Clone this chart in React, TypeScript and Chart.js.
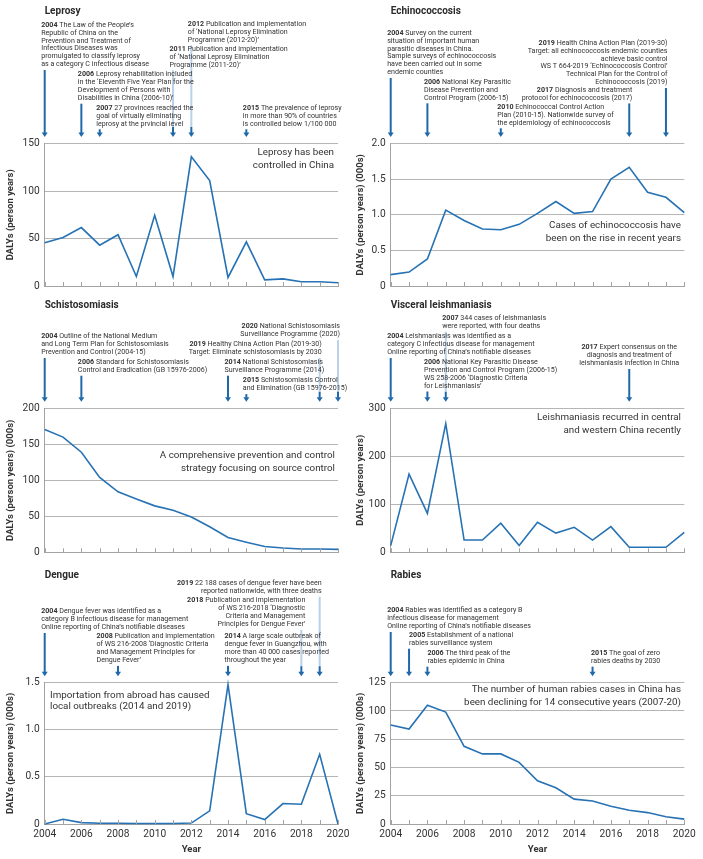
import React, { useEffect, useRef } from "react";
import { Chart, registerables } from "chart.js";

Chart.register(...registerables);

// ---------------- DATA ----------------
const YEARS = ["2004", "2005", "2006", "2007", "2008", "2009", "2010", "2011", "2012", "2013", "2014", "2015", "2016", "2017", "2018", "2019", "2020"];

const LEPROSY_DALYS = [45.5, 51, 61.5, 43, 54, 10, 74.5, 10, 136, 111, 9, 46.5, 6.5, 7.5, 4.5, 4.5, 3.5];
const ECHINO_DALYS = [0.16, 0.195, 0.38, 1.065, 0.92, 0.8, 0.79, 0.865, 1.02, 1.185, 1.02, 1.045, 1.5, 1.665, 1.315, 1.245, 1.03];
const SCHISTO_DALYS = [170.5, 160, 139, 104, 84, 74, 64.5, 58.5, 49, 35.5, 20.5, 14, 8, 6, 4.6, 4.6, 4.1];
const LEISH_DALYS = [14, 163, 81, 268, 25.5, 25.5, 60.5, 14, 62.5, 40, 52, 25.5, 53.5, 10.5, 10.5, 10.5, 41.5];
const DENGUE_DALYS = [0, 0.05, 0.015, 0.008, 0.008, 0.005, 0.005, 0.005, 0.01, 0.14, 1.48, 0.11, 0.047, 0.217, 0.21, 0.74, 0];
const RABIES_DALYS = [87.5, 84, 105, 99, 68.7, 62, 62, 54.5, 38.3, 32, 22, 20.3, 15.7, 12.2, 10.1, 6.4, 4.3];

const LEPROSY_TICKS = [0, 50, 100, 150];
const LEPROSY_TICK_LABELS = ["0", "50", "100", "150"];
const ECHINO_TICKS = [0, 0.5, 1, 1.5, 2];
const ECHINO_TICK_LABELS = ["0", "0.5", "1.0", "1.5", "2.0"];
const SCHISTO_TICKS = [0, 50, 100, 150, 200];
const SCHISTO_TICK_LABELS = ["0", "50", "100", "150", "200"];
const LEISH_TICKS = [0, 100, 200, 300];
const LEISH_TICK_LABELS = ["0", "100", "200", "300"];
const DENGUE_TICKS = [0, 0.5, 1, 1.5];
const DENGUE_TICK_LABELS = ["0", "0.5", "1.0", "1.5"];
const RABIES_TICKS = [0, 25, 50, 75, 100, 125];
const RABIES_TICK_LABELS = ["0", "25", "50", "75", "100", "125"];

const TITLES = ["Leprosy", "Echinococcosis", "Schistosomiasis", "Visceral leishmaniasis", "Dengue", "Rabies"];
const Y_TITLES = [
  "DALYs (person years)",
  "DALYs (person years) (000s)",
  "DALYs (person years) (000s)",
  "DALYs (person years)",
  "DALYs (person years) (000s)",
  "DALYs (person years) (000s)",
];
const X_TITLE = "Year";

const LEPROSY_EVENTS = [
  { year: "2004", text: ["2004 The Law of the People’s", "Republic of China on the", "Prevention and Treatment of", "Infectious Diseases was", "promulgated to classify leprosy", "as a category C infectious disease"] },
  { year: "2006", text: ["2006 Leprosy rehabilitation included", "in the ‘Eleventh Five Year Plan for the", "Development of Persons with", "Disabilities in China (2006-10)’"] },
  { year: "2007", text: ["2007 27 provinces reached the", "goal of virtually eliminating", "leprosy at the prvincial level"] },
  { year: "2011", text: ["2011 Publication and implementation", "of ‘National Leprosy Elimination", "Programme (2011-20)’"] },
  { year: "2012", text: ["2012 Publication and implementation", "of ‘National Leprosy Elimination", "Programme (2012-20)’"] },
  { year: "2015", text: ["2015 The prevalence of leprosy", "in more than 90% of countries", "is controlled below 1/100 000"] },
];
const ECHINO_EVENTS = [
  { year: "2004", text: ["2004 Survey on the current", "situation of important human", "parasitic diseases in China.", "Sample surveys of echinococcosis", "have been carried out in some", "endemic counties"] },
  { year: "2006", text: ["2006 National Key Parasitic", "Disease Prevention and", "Control Program (2006-15)"] },
  { year: "2010", text: ["2010 Echinococcal Control Action", "Plan (2010-15). Nationwide survey of", "the epidemiology of echinococcosis"] },
  { year: "2017", text: ["2017 Diagnosis and treatment", "protocol for echinococcosis (2017)"] },
  { year: "2019", text: ["2019 Health China Action Plan (2019-30)", "Target: all echinococcosis endemic counties", "achieve basic control", "WS T 664-2019 ‘Echinococcosis Control’", "Technical Plan for the Control of", "Echinococcosis (2019)"] },
];
const SCHISTO_EVENTS = [
  { year: "2004", text: ["2004 Outline of the National Medium", "and Long Term Plan for Schistosomiasis", "Prevention and Control (2004-15)"] },
  { year: "2006", text: ["2006 Standard for Schistosomiasis", "Control and Eradication (GB 15976-2006)"] },
  { year: "2014", text: ["2014 National Schistosomiasis", "Surveillance Programme (2014)"] },
  { year: "2015", text: ["2015 Schistosomiasis Control", "and Elimination (GB 15976-2015)"] },
  { year: "2019", text: ["2019 Healthy China Action Plan (2019-30)", "Target: Eliminate schistosomiasis by 2030"] },
  { year: "2020", text: ["2020 National Schistosomiasis", "Surveillance Programme (2020)"] },
];
const LEISH_EVENTS = [
  { year: "2007", text: ["2007 344 cases of leishmaniasis", "were reported, with four deaths"] },
  { year: "2004", text: ["2004 Leishmaniasis was identified as a", "category C infectious disease for management", "Online reporting of China’s notifiable diseases"] },
  { year: "2006", text: ["2006 National Key Parasitic Disease", "Prevention and Control Program (2006-15)", "WS 258-2006 ‘Diagnostic Criteria", "for Leishmaniasis’"] },
  { year: "2017", text: ["2017 Expert consensus on the", "diagnosis and treatment of", "leishmaniasis infection in China"] },
];
const DENGUE_EVENTS = [
  { year: "2019", text: ["2019 22 188 cases of dengue fever have been", "reported nationwide, with three deaths"] },
  { year: "2018", text: ["2018 Publication and implementation", "of WS 216-2018 ‘Diagnostic", "Criteria and Management", "Principles for Dengue Fever’"] },
  { year: "2004", text: ["2004 Dengue fever was identified as a", "category B infectious disease for management", "Online reporting of China’s notifiable diseases"] },
  { year: "2008", text: ["2008 Publication and implementation", "of WS 216-2008 ‘Diagnostic Criteria", "and Management Principles for", "Dengue Fever’"] },
  { year: "2014", text: ["2014 A large scale outbreak of", "dengue fever in Guangzhou, with", "more than 40 000 cases reported", "throughout the year"] },
];
const RABIES_EVENTS = [
  { year: "2004", text: ["2004 Rabies was identified as a category B", "infectious disease for management", "Online reporting of China’s notifiable diseases"] },
  { year: "2005", text: ["2005 Establishment of a national", "rabies surveillance system"] },
  { year: "2006", text: ["2006 The third peak of the", "rabies epidemic in China"] },
  { year: "2015", text: ["2015 The goal of zero", "rabies deaths by 2030"] },
];

const LEPROSY_NOTE = ["Leprosy has been", "controlled in China"];
const ECHINO_NOTE = ["Cases of echinococcosis have", "been on the rise in recent years"];
const SCHISTO_NOTE = ["A comprehensive prevention and control", "strategy focusing on source control"];
const LEISH_NOTE = ["Leishmaniasis recurred in central", "and western China recently"];
const DENGUE_NOTE = ["Importation from abroad has caused", "local outbreaks (2014 and 2019)"];
const RABIES_NOTE = ["The number of human rabies cases in China has", "been declining for 14 consecutive years (2007-20)"];

// ---------------- LAYOUT / STYLE ----------------
type Align = "left" | "right" | "center";
type EvLayout = { y: number; align?: Align; dx?: number; pale?: boolean };
type NoteLayout = { align: Align; dx: number; dy: number; lh: number };

const LEPROSY_EV_LAYOUT: EvLayout[] = [{ y: 25 }, { y: 74.5 }, { y: 108 }, { y: 49, pale: true }, { y: 24, pale: true }, { y: 108 }];
const ECHINO_EV_LAYOUT: EvLayout[] = [{ y: 33 }, { y: 82 }, { y: 107 }, { y: 90, align: "right", dx: 3 }, { y: 43, align: "right", dx: 1.5 }];
const SCHISTO_EV_LAYOUT: EvLayout[] = [{ y: 41.7 }, { y: 67.3 }, { y: 67.3 }, { y: 85.7 }, { y: 49.3, align: "right", pale: true }, { y: 31.7, align: "right", pale: true }];
const LEISH_EV_LAYOUT: EvLayout[] = [{ y: 23.3, pale: true }, { y: 41.7 }, { y: 67.3 }, { y: 52.7, align: "center" }];
const DENGUE_EV_LAYOUT: EvLayout[] = [{ y: 18.3, align: "right", pale: true }, { y: 35.7, align: "right", dx: 4, pale: true }, { y: 46.7 }, { y: 71.7, dx: -21.5 }, { y: 71.7 }];
const RABIES_EV_LAYOUT: EvLayout[] = [{ y: 45.7 }, { y: 70.3, dx: 0 }, { y: 88.3, dx: 0 }, { y: 88.3, dx: -1.5 }];

const NOTE_LAYOUTS: NoteLayout[] = [
  { align: "right", dx: -4, dy: 9.5, lh: 12.6 },
  { align: "right", dx: -3.3, dy: 82.2, lh: 13.3 },
  { align: "right", dx: -3, dy: 47.4, lh: 13.3 },
  { align: "right", dx: -3.3, dy: 9.4, lh: 13 },
  { align: "left", dx: 5.3, dy: 13, lh: 11 },
  { align: "right", dx: -3.3, dy: 6.6, lh: 13.4 },
];

const COLS = [
  { left: 0, width: 350, axisW: 44.7, padR: 12, yTitleX: 11 },
  { left: 350, width: 353, axisW: 40.7, padR: 18.7, yTitleX: 11 },
];
const ROWS = [
  { top: 0, height: 295, chartTop: 143.5, chartBottom: 286, titleY: 11, showX: false },
  { top: 295, height: 270, chartTop: 113.3, chartBottom: 257.3, titleY: 10.7, showX: false },
  { top: 565, height: 294, chartTop: 117.7, chartBottom: 259, titleY: 10, showX: true },
];

const FONT = "Roboto, 'Noto Sans', sans-serif";
const TEXT = "#333333";
const GRID = "#b5b5b5";
const AXIS = "#a3a3a3";
const LINE = "#2772b4";
const ARROW = "#1f69ab";
const ARROW_PALE = "#b9d1e9";
const ANN_SIZE = 7.1;
const ANN_LH = 7.9;
const NOTE_SIZE = 9.8;

type Panel = {
  title: string;
  yTitle: string;
  values: number[];
  ticks: number[];
  tickLabels: string[];
  events: { year: string; text: string[] }[];
  evLayout: EvLayout[];
  note: string[];
  noteLayout: NoteLayout;
  col: number;
  row: number;
};

const PANELS: Panel[] = [
  { title: TITLES[0], yTitle: Y_TITLES[0], values: LEPROSY_DALYS, ticks: LEPROSY_TICKS, tickLabels: LEPROSY_TICK_LABELS, events: LEPROSY_EVENTS, evLayout: LEPROSY_EV_LAYOUT, note: LEPROSY_NOTE, noteLayout: NOTE_LAYOUTS[0], col: 0, row: 0 },
  { title: TITLES[1], yTitle: Y_TITLES[1], values: ECHINO_DALYS, ticks: ECHINO_TICKS, tickLabels: ECHINO_TICK_LABELS, events: ECHINO_EVENTS, evLayout: ECHINO_EV_LAYOUT, note: ECHINO_NOTE, noteLayout: NOTE_LAYOUTS[1], col: 1, row: 0 },
  { title: TITLES[2], yTitle: Y_TITLES[2], values: SCHISTO_DALYS, ticks: SCHISTO_TICKS, tickLabels: SCHISTO_TICK_LABELS, events: SCHISTO_EVENTS, evLayout: SCHISTO_EV_LAYOUT, note: SCHISTO_NOTE, noteLayout: NOTE_LAYOUTS[2], col: 0, row: 1 },
  { title: TITLES[3], yTitle: Y_TITLES[3], values: LEISH_DALYS, ticks: LEISH_TICKS, tickLabels: LEISH_TICK_LABELS, events: LEISH_EVENTS, evLayout: LEISH_EV_LAYOUT, note: LEISH_NOTE, noteLayout: NOTE_LAYOUTS[3], col: 1, row: 1 },
  { title: TITLES[4], yTitle: Y_TITLES[4], values: DENGUE_DALYS, ticks: DENGUE_TICKS, tickLabels: DENGUE_TICK_LABELS, events: DENGUE_EVENTS, evLayout: DENGUE_EV_LAYOUT, note: DENGUE_NOTE, noteLayout: NOTE_LAYOUTS[4], col: 0, row: 2 },
  { title: TITLES[5], yTitle: Y_TITLES[5], values: RABIES_DALYS, ticks: RABIES_TICKS, tickLabels: RABIES_TICK_LABELS, events: RABIES_EVENTS, evLayout: RABIES_EV_LAYOUT, note: RABIES_NOTE, noteLayout: NOTE_LAYOUTS[5], col: 1, row: 2 },
];

// ---------------- DRAW HELPERS ----------------
function drawText(ctx: CanvasRenderingContext2D, s: string, x: number, y: number, font: string, align: Align, color: string) {
  ctx.font = font;
  ctx.fillStyle = color;
  ctx.textAlign = align;
  ctx.textBaseline = "middle";
  ctx.fillText(s, x, y);
}

function drawAnnLine(ctx: CanvasRenderingContext2D, line: string, x: number, y: number, align: Align, first: boolean) {
  const boldFont = `bold ${ANN_SIZE}px ${FONT}`;
  const regFont = `${ANN_SIZE}px ${FONT}`;
  let head = "";
  let rest = line;
  if (first) {
    const k = line.indexOf(" ");
    head = line.slice(0, k);
    rest = line.slice(k);
  }
  ctx.font = boldFont;
  const wh = head ? ctx.measureText(head).width : 0;
  ctx.font = regFont;
  const wr = ctx.measureText(rest).width;
  const total = wh + wr;
  const sx = align === "left" ? x : align === "right" ? x - total : x - total / 2;
  ctx.textAlign = "left";
  ctx.textBaseline = "middle";
  ctx.fillStyle = TEXT;
  if (head) {
    ctx.font = boldFont;
    ctx.fillText(head, sx, y);
  }
  ctx.font = regFont;
  ctx.fillText(rest, sx + wh, y);
}

function drawArrow(ctx: CanvasRenderingContext2D, x: number, y1: number, tip: number, pale: boolean) {
  const headH = 4.5;
  const headW = 3;
  ctx.lineWidth = 2;
  ctx.lineCap = "butt";
  if (pale) {
    ctx.strokeStyle = ARROW_PALE;
    ctx.beginPath();
    ctx.moveTo(x, y1);
    ctx.lineTo(x, tip - 10);
    ctx.stroke();
    ctx.strokeStyle = ARROW;
    ctx.beginPath();
    ctx.moveTo(x, tip - 10);
    ctx.lineTo(x, tip - headH + 0.5);
    ctx.stroke();
  } else {
    ctx.strokeStyle = ARROW;
    ctx.beginPath();
    ctx.moveTo(x, y1);
    ctx.lineTo(x, tip - headH + 0.5);
    ctx.stroke();
  }
  ctx.fillStyle = ARROW;
  ctx.beginPath();
  ctx.moveTo(x - headW, tip - headH);
  ctx.lineTo(x + headW, tip - headH);
  ctx.lineTo(x, tip);
  ctx.closePath();
  ctx.fill();
}

function drawPanel(chart: Chart, p: Panel) {
  const ctx = chart.ctx;
  const ca = chart.chartArea;
  const xs = chart.scales.x;
  const row = ROWS[p.row];
  const col = COLS[p.col];
  ctx.save();

  // inner tick marks on x axis
  ctx.strokeStyle = AXIS;
  ctx.lineWidth = 1;
  for (let i = 0; i < YEARS.length; i++) {
    const x = Math.round(xs.getPixelForValue(i)) + 0.5;
    ctx.beginPath();
    ctx.moveTo(x, ca.bottom);
    ctx.lineTo(x, ca.bottom - 4);
    ctx.stroke();
  }

  // panel title
  drawText(ctx, p.title, ca.left, row.titleY, `bold 10px ${FONT}`, "left", "#2b2b2b");

  // y title
  ctx.save();
  ctx.translate(col.yTitleX, (ca.top + ca.bottom) / 2);
  ctx.rotate(-Math.PI / 2);
  drawText(ctx, p.yTitle, 0, 0, `bold 9.5px ${FONT}`, "center", TEXT);
  ctx.restore();

  // x title
  if (row.showX) {
    drawText(ctx, X_TITLE, (ca.left + ca.right) / 2, row.height - 9.7, `bold 9.5px ${FONT}`, "center", TEXT);
  }

  // events: arrows first then text
  const tip = ca.top - 6.5;
  p.events.forEach((ev, i) => {
    const lay = p.evLayout[i];
    const ax = xs.getPixelForValue(YEARS.indexOf(ev.year));
    const top = lay.y + (ev.text.length - 1) * ANN_LH + 5.5;
    drawArrow(ctx, ax, top, tip, !!lay.pale);
  });
  p.events.forEach((ev, i) => {
    const lay = p.evLayout[i];
    const align: Align = lay.align || "left";
    const ax = xs.getPixelForValue(YEARS.indexOf(ev.year));
    const def = align === "right" ? 2 : align === "center" ? 0 : -3.5;
    const tx = ax + (lay.dx !== undefined ? lay.dx : def);
    ev.text.forEach((ln, k) => drawAnnLine(ctx, ln, tx, lay.y + k * ANN_LH, align, k === 0));
  });

  // note
  const nl = p.noteLayout;
  const nx = nl.align === "right" ? ca.right + nl.dx : ca.left + nl.dx;
  p.note.forEach((ln, k) => {
    drawText(ctx, ln, nx, ca.top + nl.dy + k * nl.lh, `${NOTE_SIZE}px ${FONT}`, nl.align, TEXT);
  });

  ctx.restore();
}

function makeChart(canvas: HTMLCanvasElement, p: Panel) {
  const row = ROWS[p.row];
  const col = COLS[p.col];
  const tmin = p.ticks[0];
  const tmax = p.ticks[p.ticks.length - 1];
  const step = p.ticks[1] - p.ticks[0];
  return new Chart(canvas, {
    type: "line",
    data: {
      labels: YEARS,
      datasets: [
        {
          data: p.values,
          borderColor: LINE,
          borderWidth: 1.6,
          pointRadius: 0,
          tension: 0,
          fill: false,
          clip: 4,
        },
      ],
    },
    options: {
      animation: false,
      responsive: false,
      events: [],
      layout: { padding: { top: row.chartTop, left: 0, right: col.padR, bottom: 0 } },
      plugins: { legend: { display: false }, tooltip: { enabled: false }, title: { display: false } },
      scales: {
        x: {
          type: "category",
          offset: false,
          grid: { display: false, drawTicks: false },
          border: { display: true, color: AXIS, width: 1 },
          ticks: {
            display: row.showX,
            autoSkip: false,
            maxRotation: 0,
            minRotation: 0,
            padding: 4,
            color: TEXT,
            font: { family: FONT, size: 10.2 },
            callback: (_v: any, i: number) => (i % 2 === 0 ? YEARS[i] : ""),
          },
          afterFit: (s: any) => {
            s.height = row.height - row.chartBottom;
            s.paddingLeft = 0;
            s.paddingRight = 0;
          },
        },
        y: {
          min: tmin,
          max: tmax,
          grid: { color: GRID, drawTicks: false, lineWidth: 1 },
          border: { display: true, color: AXIS, width: 1 },
          ticks: {
            stepSize: step,
            padding: 5,
            color: TEXT,
            font: { family: FONT, size: 10.2 },
            callback: (v: any) => {
              const idx = p.ticks.findIndex((t) => Math.abs(t - Number(v)) < 1e-9);
              return idx >= 0 ? p.tickLabels[idx] : "";
            },
          },
          afterFit: (s: any) => {
            s.width = col.axisW;
            s.paddingTop = 0;
            s.paddingBottom = 0;
          },
        },
      },
    },
    plugins: [
      {
        id: "panelDecor",
        afterDraw: (chart: Chart) => drawPanel(chart, p),
      },
    ],
  } as any);
}

function PanelCanvas({ p }: { p: Panel }) {
  const ref = useRef<HTMLCanvasElement | null>(null);
  useEffect(() => {
    if (!ref.current) return;
    const c = makeChart(ref.current, p);
    return () => c.destroy();
  }, [p]);
  const row = ROWS[p.row];
  const col = COLS[p.col];
  return (
    <canvas
      ref={ref}
      width={col.width}
      height={row.height}
      style={{ position: "absolute", left: col.left, top: row.top, width: col.width, height: row.height }}
    />
  );
}

export default function App() {
  return (
    <div style={{ position: "absolute", left: 0, top: 0, width: 703, height: 859, background: "#ffffff", overflow: "hidden" }}>
      {PANELS.map((p, i) => (
        <PanelCanvas key={i} p={p} />
      ))}
    </div>
  );
}
